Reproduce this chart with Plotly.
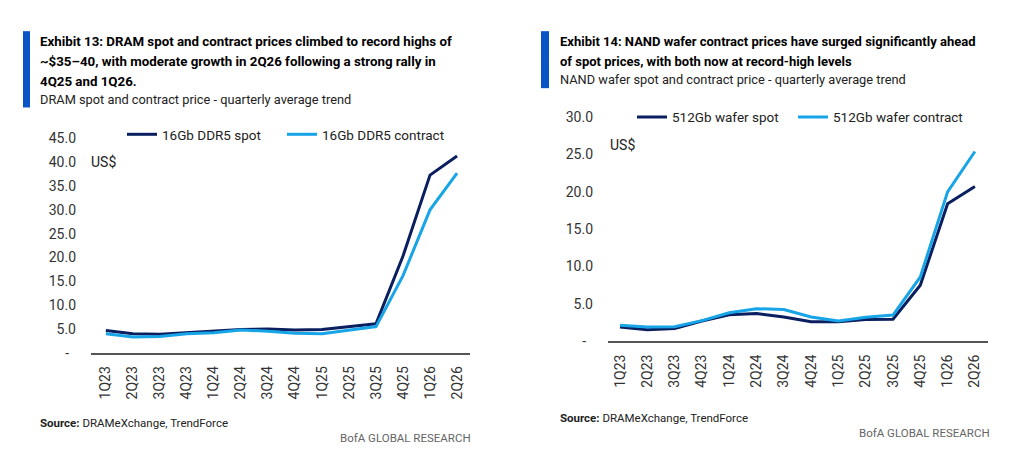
import plotly.graph_objects as go

quarters = ["1Q23", "2Q23", "3Q23", "4Q23", "1Q24", "2Q24", "3Q24", "4Q24",
            "1Q25", "2Q25", "3Q25", "4Q25", "1Q26", "2Q26"]

dram_spot = [4.7, 4.0, 3.9, 4.2, 4.5, 4.9, 5.0, 4.8, 4.9, 5.5, 6.1, 20.3, 37.3, 41.3]
dram_contract = [4.0, 3.3, 3.4, 4.0, 4.2, 4.8, 4.5, 4.1, 4.0, 4.8, 5.5, 16.2, 30.0, 37.7]

nand_spot = [1.9, 1.55, 1.7, 2.7, 3.55, 3.7, 3.25, 2.6, 2.6, 2.9, 2.95, 7.5, 18.4, 20.7]
nand_contract = [2.15, 1.9, 1.95, 2.75, 3.8, 4.35, 4.25, 3.25, 2.7, 3.2, 3.5, 8.6, 20.0, 25.4]

dram_yticks = [0, 5, 10, 15, 20, 25, 30, 35, 40, 45]
nand_yticks = [0, 5, 10, 15, 20, 25, 30]

DARK = "#0a1f60"
LIGHT = "#17a5e8"
BAR = "#0a55c6"
FONT = "Roboto, sans-serif"

W, H = 1024, 468


def px(x):
    return x / W


def py(y):
    return 1 - y / H


def tick_text(vals):
    return ["-  " if v == 0 else f"{v:.1f}" for v in vals]


fig = go.Figure()

# one legend per series so the entries can be spaced like the original
fig.add_trace(go.Scatter(x=quarters, y=dram_spot, name="16Gb DDR5 spot", mode="lines", showlegend=True,
                         line=dict(color=DARK, width=3), xaxis="x", yaxis="y", legend="legend"))
fig.add_trace(go.Scatter(x=quarters, y=dram_contract, name="16Gb DDR5 contract", mode="lines",
                         line=dict(color=LIGHT, width=3), xaxis="x", yaxis="y", legend="legend2"))
fig.add_trace(go.Scatter(x=quarters, y=nand_spot, name="512Gb wafer spot", mode="lines",
                         line=dict(color=DARK, width=3), xaxis="x2", yaxis="y2", legend="legend3"))
fig.add_trace(go.Scatter(x=quarters, y=nand_contract, name="512Gb wafer contract", mode="lines",
                         line=dict(color=LIGHT, width=3), xaxis="x2", yaxis="y2", legend="legend4"))

xcommon = dict(type="category", showgrid=False, zeroline=False, showline=True,
               linecolor="#555555", linewidth=1.5, ticks="", tickangle=-90,
               tickfont=dict(size=14, color="#333333", family=FONT), ticklabelstandoff=6)
ycommon = dict(showgrid=False, zeroline=False, showline=False, ticks="",
               tickfont=dict(size=14, color="#333333", family=FONT), ticklabelstandoff=14)

legcommon = dict(orientation="h", bgcolor="rgba(0,0,0,0)", font=dict(size=13.5, color="#222222", family=FONT),
                 xanchor="left", yanchor="middle", itemwidth=30)

fig.update_layout(
    width=W, height=H,
    margin=dict(l=0, r=0, t=0, b=0),
    paper_bgcolor="white", plot_bgcolor="white",
    font=dict(family=FONT),
    showlegend=True,
    xaxis=dict(xcommon, domain=[px(91), px(470)], range=[-0.55, 13.48], anchor="y"),
    yaxis=dict(ycommon, domain=[py(357), py(135)], range=[0, 45], anchor="x",
               tickvals=dram_yticks, ticktext=tick_text(dram_yticks)),
    xaxis2=dict(xcommon, domain=[px(608), px(988)], range=[-0.44, 13.48], anchor="y2"),
    yaxis2=dict(ycommon, domain=[py(345), py(113)], range=[0, 30], anchor="x2",
                tickvals=nand_yticks, ticktext=tick_text(nand_yticks)),
    legend=dict(legcommon, x=px(122), y=py(131)),
    legend2=dict(legcommon, x=px(282), y=py(131)),
    legend3=dict(legcommon, x=px(632), y=py(113)),
    legend4=dict(legcommon, x=px(793), y=py(113)),
)

# title blocks
fig.add_shape(type="rect", xref="paper", yref="paper", x0=px(23), x1=px(30), y0=py(103), y1=py(24),
              fillcolor=BAR, line_width=0)
fig.add_shape(type="rect", xref="paper", yref="paper", x0=px(541), x1=px(549), y0=py(83), y1=py(24),
              fillcolor=BAR, line_width=0)


def text(x, y, s, size=14, color="#000000", anchor="left"):
    fig.add_annotation(xref="paper", yref="paper", x=px(x), y=py(y), text=s, showarrow=False,
                       xanchor=anchor, yanchor="middle", align=anchor,
                       font=dict(size=size, color=color, family=FONT))


left_title = ["Exhibit 13: DRAM spot and contract prices climbed to record highs of",
              "~$35\u201340, with moderate growth in 2Q26 following a strong rally in",
              "4Q25 and 1Q26."]
for i, line in enumerate(left_title):
    text(38, 35 + i * 20.5, f"<b>{line}</b>", size=13.3)
text(38, 95, "DRAM spot and contract price - quarterly average trend", size=12.8, color="#222222")

right_title = ["Exhibit 14: NAND wafer contract prices have surged significantly ahead",
               "of spot prices, with both now at record-high levels"]
for i, line in enumerate(right_title):
    text(558, 35 + i * 20.5, f"<b>{line}</b>", size=13.0)
text(558, 74, "NAND wafer spot and contract price - quarterly average trend", size=12.8, color="#222222")

# unit labels
text(89, 159, "US$", size=14, color="#222222")
text(608, 142, "US$", size=14, color="#222222")

# footers
text(38, 430, "<b>Source:</b> DRAMeXchange, TrendForce", size=11.5, color="#222222")
text(473, 445, "BofA GLOBAL RESEARCH", size=11.5, color="#666666", anchor="right")
text(558, 425, "<b>Source:</b> DRAMeXchange, TrendForce", size=11.5, color="#222222")
text(992, 440, "BofA GLOBAL RESEARCH", size=11.5, color="#666666", anchor="right")

# drop the default page margin so the 1024x468 figure fills the window exactly
fig.write_html("out.html", config={"displayModeBar": False},
               post_script="document.body.style.margin='0';document.body.style.overflow='hidden';")
